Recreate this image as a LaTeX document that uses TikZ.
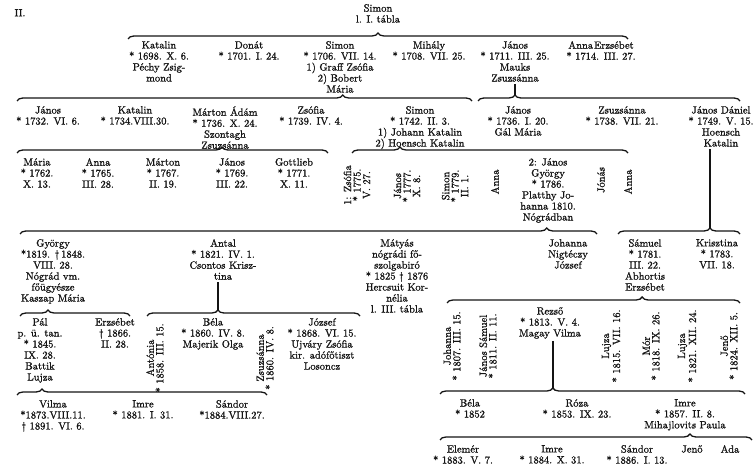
\documentclass[tikz,border=0pt]{standalone}
\usepackage{fontspec}
\newfontfamily\scanfont{lmroman10-regular.otf}[FakeBold=1.2]
\usetikzlibrary{decorations.pathreplacing}
\definecolor{ink}{HTML}{141414}

\begin{document}
\begin{tikzpicture}[x=1pt, y=-1pt,
  every node/.style={text=ink, inner sep=0pt},
  pers/.style={align=center, anchor=north, font=\scanfont\bfseries\fontsize{10.5}{11}\selectfont},
  vert/.style={align=center, rotate=90, font=\scanfont\bfseries\fontsize{10.5}{9.5}\selectfont},
  famb/.style={ink, line width=1.3pt, decorate,
    decoration={brace, amplitude=6pt, aspect=#1}},
  stem/.style={ink, line width=1.1pt}]

\useasboundingbox (0,0) rectangle (754,470);

% Heading
\node[pers] (tablano) at (20,9) {II.};
\node[pers] (simon0) at (378,4) {Simon\\l. I. tábla};

% Generation 1
\path (128,39) coordinate (b1l) (628,39) coordinate (b1r);
\draw[famb=0.5] (b1l) -- (b1r);
\node[pers] (katalin1) at (159,41) {Katalin\\* 1698. X. 6.\\Péchy Zsig-\\mond};
\node[pers] (donat) at (249,41) {Donát\\* 1701. I. 24.};
\node[pers] (simon1) at (340,41) {Simon\\* 1706. VII. 14.\\1) Graff Zsófia\\2) Bobert\\Mária};
\node[pers] (mihaly) at (429,41) {Mihály\\* 1708. VII. 25.};
\node[pers] (janos1) at (515,41) {János\\* 1711. III. 25.\\Mauks\\Zsuzsánna};
\node[pers] (anna1) at (601,41) {Anna\hspace{1pt}Erzsébet\\* 1714. III. 27.};

% Generation 2
\path (17,101) coordinate (b2l) (472,101) coordinate (b2r);
\draw[famb=0.716] (b2l) -- (b2r);
\path (478,101) coordinate (b3l) (740,101) coordinate (b3r) (515,95) coordinate (b3t);
\draw[famb=0.141] (b3l) -- (b3r);
\draw[stem] (janos1.south -| b3t) ++(0,2) -- (b3t);
\node[pers] (janos2) at (48,106) {János\\* 1732. VI. 6.};
\node[pers] (katalin2) at (135,106) {Katalin\\* 1734.VIII.30.};
\node[pers] (marton2) at (225,106) {Márton Ádám\\* 1736. X. 24.\\Szontagh\\Zsuzsánna};
\node[pers] (zsofia2) at (311,106) {Zsófia\\* 1739. IV. 4.};
\node[pers] (simon2) at (420,106) {Simon\\* 1742. II. 3.\\1) Johann Katalin\\2) Hoensch Katalin};
\node[pers] (janos3) at (518,106) {János\\* 1736. I. 20.\\Gál Mária};
\node[pers] (zsuzsanna2) at (622,106) {Zsuzsánna\\* 1738. VII. 21.};
\node[pers] (janosd) at (721,106) {János Dániel\\* 1749. V. 15.\\Hoensch\\Katalin};

% Generation 3
\path (17,153) coordinate (b4l) (328,153) coordinate (b4r);
\draw[famb=0.659] (b4l) -- (b4r);
\path (352,153) coordinate (b5l) (628,153) coordinate (b5r);
\draw[famb=0.174] (b5l) -- (b5r);
\node[pers] (maria3) at (37,158) {Mária\\* 1762.\\X. 13.};
\node[pers] (anna3) at (98,158) {Anna\\* 1765.\\III. 28.};
\node[pers] (marton3) at (163,158) {Márton\\* 1767.\\II. 19.};
\node[pers] (janos4) at (232,158) {János\\* 1769.\\III. 22.};
\node[pers] (gottlieb) at (294,158) {Gottlieb\\* 1771.\\X. 11.};
\node[vert] (zsofia3) at (357,185) {1: Zsófia\\* 1775.\\V. 27.};
\node[vert] (janos5) at (407,186) {János\\* 1777.\\X. 8.};
\node[vert] (simon3) at (455,186) {Simon\\* 1779.\\II. 1.};
\node[vert] (anna4) at (495,182) {Anna};
\node[pers] (janosgy) at (548,158) {2: János\\György\\* 1786.\\Platthy Jo-\\hanna 1810.\\Nógrádban};
\node[vert] (jonas) at (601,180) {Jónás};
\node[vert] (anna5) at (628,182) {Anna};

% Generation 4
\path (20,234) coordinate (b6l) (597,234) coordinate (b6r);
\draw[famb=0.913] (b6l) -- (b6r);
\path (618,234) coordinate (b7l) (740,234) coordinate (b7r) (710,228) coordinate (b7t);
\draw[famb=0.754] (b7l) -- (b7r);
\draw[stem] (janosd.south -| b7t) ++(0,2) -- (b7t);
\node[pers] (gyorgy) at (53,239) {György\\*1819. \textdagger\,1848.\\VIII. 28.\\Nógrád vm.\\főügyésze\\Kaszap Mária};
\node[pers] (antal) at (223,239) {Antal\\* 1821. IV. 1.\\Csontos Krisz-\\tina};
\node[pers] (matyas) at (397,239) {Mátyás\\nógrádi fő-\\szolgabiró\\* 1825 \textdagger\ 1876\\Hercsuit Kor-\\nélia\\l. III. tábla};
\node[pers] (johanna4) at (568,239) {Johanna\\Nigtéczy\\József};
\node[pers] (samuel) at (645,239) {Sámuel\\* 1781.\\III. 22.\\Abhortis\\Erzsébet};
\node[pers] (krisztina) at (717,239) {Krisztina\\* 1783.\\VII. 18.};

% Generation 5
\path (20,316) coordinate (b10l) (130,316) coordinate (b10r);
\draw[famb=0.255] (b10l) -- (b10r);
\path (147,316) coordinate (b8l) (360,316) coordinate (b8r) (218,310) coordinate (b8t);
\draw[famb=0.333] (b8l) -- (b8r);
\draw[stem] (antal.south -| b8t) ++(0,2) -- (b8t);
\path (447,303) coordinate (b9l) (740,303) coordinate (b9r);
\draw[famb=0.666] (b9l) -- (b9r);
\node[pers] (pal) at (40,318) {Pál\\p. ü. tan.\\* 1845.\\IX. 28.\\Battik\\Lujza};
\node[pers] (erzsebet5) at (115,318) {Erzsébet\\\textdagger\ 1866.\\II. 28.};
\node[vert] (antonia) at (155,358) {Antónia\\* 1858. III. 15.};
\node[pers] (bela5) at (213,318) {Béla\\* 1860. IV. 8.\\Majerik Olga};
\node[vert] (zsuzsanna5) at (265,358) {Zsuzsánna\\* 1860. IV. 8.};
\node[pers] (jozsef) at (322,318) {József\\* 1868. VI. 15.\\Ujváry Zsófia\\kir. adófőtiszt\\Losoncz};
\node[vert] (johanna5) at (452,346) {Johanna\\* 1807. III. 15.};
\node[vert] (janossam) at (488,346) {János Sámuel\\* 1811. II. 11.};
\node[pers] (rezso) at (550,307) {Rezső\\* 1813. V. 4.\\Magay Vilma};
\node[vert] (lujza5) at (611,346) {Lujza\\* 1815. VII. 16.};
\node[vert] (mor) at (651,346) {Mór\\* 1818. IX. 26.};
\node[vert] (lujza6) at (687,346) {Lujza\\* 1821. XII. 24.};
\node[vert] (jeno5) at (729,346) {Jenő\\* 1824. XII. 5.};

% Generation 6
\path (17,395) coordinate (b11l) (267,395) coordinate (b11r);
\draw[famb=0.1] (b11l) -- (b11r);
\path (440,394) coordinate (b12l) (745,394) coordinate (b12r) (553,388) coordinate (b12t);
\draw[famb=0.370] (b12l) -- (b12r);
\draw[stem] (rezso.south -| b12t) ++(0,2) -- (b12t);
\node[pers] (vilma) at (53,400) {Vilma\\*1873.VIII.11.\\\textdagger\ 1891. VI. 6.};
\node[pers] (imre6) at (143,400) {Imre\\* 1881. I. 31.};
\node[pers] (sandor6) at (232,400) {Sándor\\*1884.VIII.27.};
\node[pers] (bela6) at (470,399) {Béla\\* 1852};
\node[pers] (roza) at (577,399) {Róza\\* 1853. IX. 23.};
\node[pers] (imre7) at (685,399) {Imre\\* 1857. II. 8.\\Mihajlovits Paula};

% Generation 7
\path (440,440) coordinate (b13l) (752,440) coordinate (b13r);
\draw[famb=0.801] (b13l) -- (b13r);
\node[pers] (elemer) at (463,445) {Elemér\\* 1883. V. 7.};
\node[pers] (imre8) at (552,445) {Imre\\* 1884. X. 31.};
\node[pers] (sandor8) at (637,445) {Sándor\\* 1886. I. 13.};
\node[pers] (jeno8) at (692,445) {Jenő};
\node[pers] (ada) at (730,445) {Ada};

\end{tikzpicture}
\end{document}
